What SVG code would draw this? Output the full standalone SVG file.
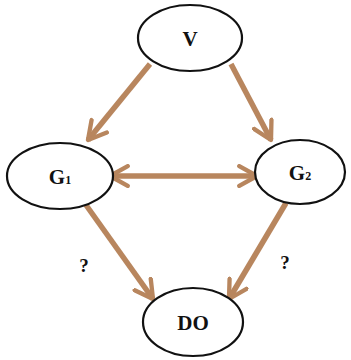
<svg xmlns="http://www.w3.org/2000/svg" width="351" height="360" viewBox="0 0 351 360">
<defs>
<style>
.node{fill:#fff;stroke:#111;stroke-width:2.2}
.lbl{font-family:"Liberation Serif",serif;font-weight:bold;font-size:21px;fill:#111;text-anchor:middle}
.q{font-size:19px}
.sub{font-size:12px}
.edge{stroke:#b8865e;stroke-width:5.5;fill:none;stroke-linecap:butt}
</style>
<marker id="ah" viewBox="0 0 12 12" refX="10" refY="6" markerWidth="4.3" markerHeight="4.3" orient="auto-start-reverse" markerUnits="strokeWidth">
<path d="M1,1 L10,6 L1,11" fill="none" stroke="#b8865e" stroke-width="2.2" stroke-linecap="round" stroke-linejoin="round"/>
</marker>
</defs>
<rect width="351" height="360" fill="#fff"/>
<g id="connectors">
<line class="edge" x1="150" y1="64" x2="88" y2="140" marker-end="url(#ah)"/>
<line class="edge" x1="231" y1="64" x2="271" y2="140" marker-end="url(#ah)"/>
<line class="edge" x1="110" y1="176" x2="257" y2="176" marker-start="url(#ah)" marker-end="url(#ah)"/>
<line class="edge" x1="86" y1="205" x2="153" y2="299" marker-end="url(#ah)"/>
<line class="edge" x1="286" y1="203" x2="229" y2="299" marker-end="url(#ah)"/>
</g>
<g id="V">
<ellipse class="node" cx="190" cy="38" rx="52" ry="33"/>
<text class="lbl" x="190" y="46">V</text>
</g>
<g id="G1">
<ellipse class="node" cx="60" cy="176" rx="53" ry="33"/>
<text class="lbl" x="60" y="184">G<tspan class="sub">1</tspan></text>
</g>
<g id="G2">
<ellipse class="node" cx="300" cy="172" rx="45" ry="32"/>
<text class="lbl" x="300" y="180">G<tspan class="sub">2</tspan></text>
</g>
<g id="DO">
<ellipse class="node" cx="193" cy="322" rx="50" ry="34"/>
<text class="lbl" x="193" y="330">DO</text>
</g>
<g id="labels">
<text class="lbl q" x="84" y="272">?</text>
<text class="lbl q" x="285" y="269">?</text>
</g>
</svg>
